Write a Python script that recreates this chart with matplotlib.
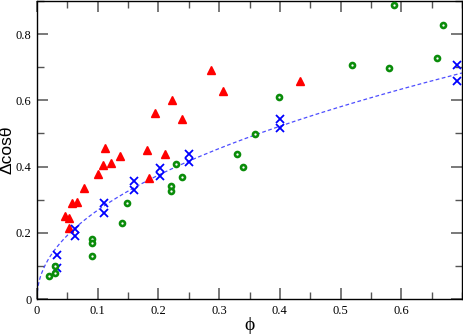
import numpy as np
import matplotlib
matplotlib.use("Agg")
import matplotlib.pyplot as plt
from matplotlib.ticker import MultipleLocator

# Red triangles
red_x = [0.046, 0.053, 0.053, 0.057, 0.066, 0.077, 0.100, 0.109, 0.112, 0.122,
         0.137, 0.181, 0.184, 0.194, 0.210, 0.223, 0.239, 0.287, 0.306, 0.433]
red_y = [0.252, 0.244, 0.215, 0.290, 0.293, 0.334, 0.377, 0.405, 0.455, 0.412,
         0.431, 0.451, 0.364, 0.562, 0.439, 0.600, 0.544, 0.693, 0.627, 0.659]

# Blue crosses
blue_x = [0.033, 0.033, 0.063, 0.063, 0.111, 0.111, 0.160, 0.160, 0.202, 0.202,
          0.250, 0.250, 0.400, 0.400, 0.692, 0.692]
blue_y = [0.133, 0.095, 0.210, 0.191, 0.291, 0.261, 0.355, 0.330, 0.397, 0.371,
          0.413, 0.439, 0.545, 0.515, 0.708, 0.658]

# Green open circles
green_x = [0.020, 0.030, 0.030, 0.090, 0.090, 0.090, 0.140, 0.149, 0.220, 0.220,
           0.229, 0.239, 0.329, 0.339, 0.359, 0.399, 0.519, 0.579, 0.588, 0.658, 0.668]
green_y = [0.069, 0.079, 0.099, 0.181, 0.168, 0.129, 0.230, 0.289, 0.341, 0.327,
           0.409, 0.369, 0.439, 0.399, 0.498, 0.609, 0.708, 0.698, 0.888, 0.729, 0.828]

# Fit curve y = a * x^b
fit_a = 0.81
fit_b = 0.48

plt.rcParams['font.family'] = ['Liberation Serif', 'DejaVu Serif']

fig = plt.figure(figsize=(4.64, 3.34), dpi=100)
ax = fig.add_axes([37/464, 1 - 299/334, (462 - 37)/464, 298/334])

xs = np.linspace(0.0005, 0.7, 400)
ax.plot(xs, fit_a * xs**fit_b, linestyle=(0, (3, 2)), color='#3a3aff', lw=0.9, alpha=0.9, zorder=2)

ax.plot(red_x, red_y, linestyle='none', marker='^', ms=6.3, color='#ff0000', mec='#ff0000', zorder=3)
ax.plot(blue_x, blue_y, linestyle='none', marker='x', ms=5.8, mew=1.3, color='#0000ff', zorder=3)
ax.plot(green_x, green_y, linestyle='none', marker='o', ms=3.6, mfc='white', mec='#0a8c0a', mew=1.9, zorder=3)

ax.set_xlim(0, 0.7)
ax.set_ylim(0, 0.9)
ax.xaxis.set_minor_locator(MultipleLocator(0.05))
ax.yaxis.set_minor_locator(MultipleLocator(0.1))
ax.set_xticks([0, 0.1, 0.2, 0.3, 0.4, 0.5, 0.6])
ax.set_xticklabels(['0', '0.1', '0.2', '0.3', '0.4', '0.5', '0.6'])
ax.set_yticks([0, 0.2, 0.4, 0.6, 0.8])
ax.set_yticklabels(['0', '0.2', '0.4', '0.6', '0.8'])

ax.tick_params(which='both', direction='in', top=True, right=True, labelsize=9, color='#555555')
ax.tick_params(which='major', length=8, width=1.1, pad=4)
ax.tick_params(which='minor', length=5, width=1.0)

for s in ax.spines.values():
    s.set_linewidth(1.0)

ax.set_xlabel('\u03d5', fontsize=14, labelpad=0)
ax.set_ylabel('\u0394cos\u03b8', fontsize=12.5, family=['Liberation Sans', 'DejaVu Sans'])
ax.yaxis.set_label_coords(-0.052, 0.5)

fig.savefig('out.png', dpi=100)
